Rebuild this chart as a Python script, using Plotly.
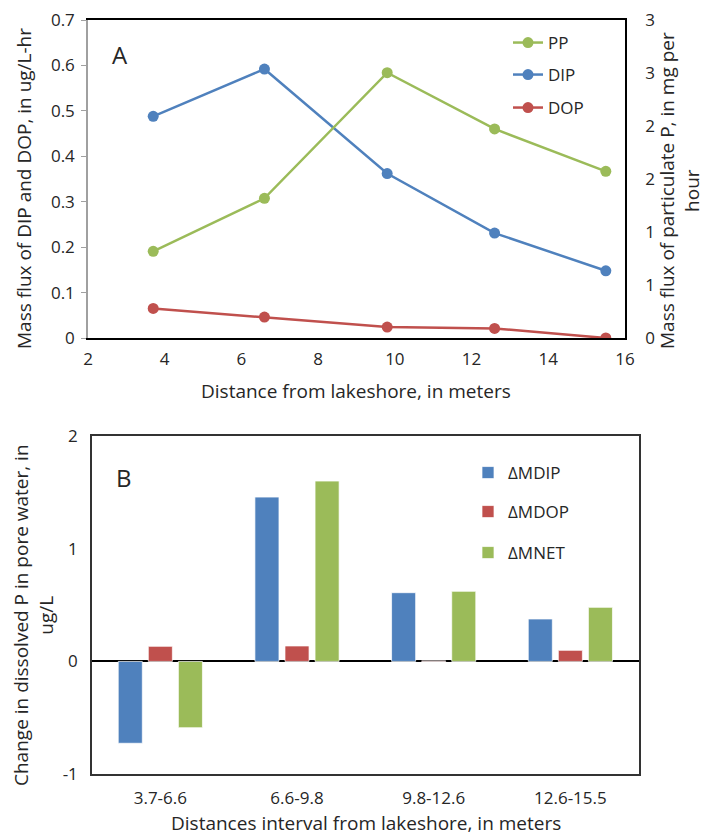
import plotly.graph_objects as go

# ---------------- data ----------------
distance = [3.7, 6.6, 9.8, 12.6, 15.5]
pp = [0.818, 1.318, 2.503, 1.972, 1.572]      # right axis, mg per hour
dip = [0.488, 0.592, 0.362, 0.231, 0.148]     # left axis, ug/L-hr
dop = [0.065, 0.046, 0.024, 0.021, 0.0]

intervals = ["3.7-6.6", "6.6-9.8", "9.8-12.6", "12.6-15.5"]
d_mdip = [-0.725, 1.456, 0.609, 0.376]
d_mdop = [0.134, 0.137, 0.005, 0.098]
d_mnet = [-0.587, 1.598, 0.621, 0.479]

left_tickvals = [0, 0.1, 0.2, 0.3, 0.4, 0.5, 0.6, 0.7]
left_ticktext = ["0", "0.1", "0.2", "0.3", "0.4", "0.5", "0.6", "0.7"]
right_tickvals = [0, 0.5, 1, 1.5, 2, 2.5, 3]
right_ticktext = ["0", "1", "1", "2", "2", "3", "3"]
b_tickvals = [-1, 0, 1, 2]
b_ticktext = ["-1", "0", "1", "2"]

GREEN = "#9BBB59"
BLUE = "#4F81BD"
RED = "#C0504D"
TXT = "#262626"
FONT = "Open Sans"
W, H = 706, 835

def px(x):
    return x / W

def py(y):
    return 1 - y / H

fig = go.Figure()

# ---------------- panel A ----------------
fig.add_trace(go.Scatter(x=distance, y=pp, name="PP", mode="lines+markers",
                         line=dict(color=GREEN, width=2.5), marker=dict(color=GREEN, size=11),
                         xaxis="x", yaxis="y2", legend="legend"))
fig.add_trace(go.Scatter(x=distance, y=dip, name="DIP", mode="lines+markers",
                         line=dict(color=BLUE, width=2.5), marker=dict(color=BLUE, size=11),
                         xaxis="x", yaxis="y", legend="legend2"))
fig.add_trace(go.Scatter(x=distance, y=dop, name="DOP", mode="lines+markers",
                         line=dict(color=RED, width=2.5), marker=dict(color=RED, size=11),
                         xaxis="x", yaxis="y", legend="legend3"))

# ---------------- panel B ----------------
for name, vals, col, lg in [("ΔMDIP", d_mdip, BLUE, "legend4"),
                            ("ΔMDOP", d_mdop, RED, "legend5"),
                            ("ΔMNET", d_mnet, GREEN, "legend6")]:
    fig.add_trace(go.Bar(x=intervals, y=vals, name=name,
                         marker=dict(color=col, line=dict(color="rgba(255,255,255,0.7)", width=1)),
                         xaxis="x3", yaxis="y3", legend=lg))

tickfont = dict(family=FONT, size=17, color=TXT)
titlefont = dict(family=FONT, size=19, color=TXT)

fig.update_layout(
    width=W, height=H,
    margin=dict(l=0, r=0, t=0, b=0, autoexpand=False),
    paper_bgcolor="white", plot_bgcolor="white",
    font=dict(family=FONT, size=17, color=TXT),
    barmode="group", bargap=0.34, bargroupgap=0.2,
    xaxis=dict(domain=[px(88), px(625)], anchor="y", range=[2, 16], dtick=2,
               showgrid=False, zeroline=False, showline=True, mirror=True,
               linecolor="black", linewidth=1.5, ticks="", ticklabelstandoff=5,
               tickfont=tickfont, automargin=False),
    yaxis=dict(domain=[py(338), py(20)], anchor="x", range=[0, 0.7],
               tickvals=left_tickvals, ticktext=left_ticktext,
               showgrid=False, zeroline=False, showline=True,
               linecolor="#A0A0A0", linewidth=1.5, ticks="outside", ticklen=5,
               tickcolor="#A0A0A0", ticklabelstandoff=3, tickfont=tickfont,
               automargin=False),
    yaxis2=dict(overlaying="y", side="right", anchor="x", range=[0, 3],
                tickvals=right_tickvals, ticktext=right_ticktext,
                showgrid=False, zeroline=False, showline=True, linecolor="black",
                linewidth=1.5, ticks="outside", ticklen=15, tickcolor="rgba(0,0,0,0)",
                tickfont=tickfont, automargin=False),
    xaxis3=dict(domain=[px(92), px(638.7)], anchor="y3", range=[-0.5, 3.5],
                showgrid=False, showline=True, mirror=True, linecolor="#333333",
                linewidth=1.5, ticks="", ticklabelstandoff=8, tickfont=tickfont,
                automargin=False),
    yaxis3=dict(domain=[py(774.3), py(435.7)], anchor="x3", range=[-1, 2],
                tickvals=b_tickvals, ticktext=b_ticktext,
                showgrid=False, zeroline=True, zerolinecolor="black", zerolinewidth=1.5,
                showline=True, mirror=True, linecolor="#333333", linewidth=1.5,
                ticks="outside", ticklen=9, tickcolor="rgba(0,0,0,0)", tickfont=tickfont,
                automargin=False),
    showlegend=True,
)

legstyle = dict(xanchor="left", yanchor="middle", bgcolor="rgba(0,0,0,0)",
                font=dict(family=FONT, size=17, color=TXT))
fig.update_layout(
    legend=dict(x=px(508), y=py(43), **legstyle),
    legend2=dict(x=px(508), y=py(75), **legstyle),
    legend3=dict(x=px(508), y=py(108), **legstyle),
    legend4=dict(x=px(468), y=py(473), **legstyle),
    legend5=dict(x=px(468), y=py(512), **legstyle),
    legend6=dict(x=px(468), y=py(553), **legstyle),
)

def a(text, x, y, font, angle=0):
    return dict(text=text, x=px(x), y=py(y), xref="paper", yref="paper",
                xanchor="center", yanchor="middle", textangle=angle,
                showarrow=False, font=font)

ann = [
    a("A", 120, 55, dict(family=FONT, size=24, color=TXT)),
    a("B", 124, 477, dict(family=FONT, size=24, color=TXT)),
    a("Mass flux of DIP and DOP, in ug/L-hr", 24, 189, titlefont, -90),
    a("Mass flux of particulate P, in mg per<br>hour", 679, 191, titlefont, -90),
    a("Distance from lakeshore, in meters", 356, 391, titlefont),
    a("Change in dissolved P in pore water, in<br>ug/L", 33, 615, titlefont, -90),
    a("Distances interval from lakeshore, in meters", 366, 823, titlefont),
]
fig.update_layout(annotations=ann)

fig.write_html("out.html")
